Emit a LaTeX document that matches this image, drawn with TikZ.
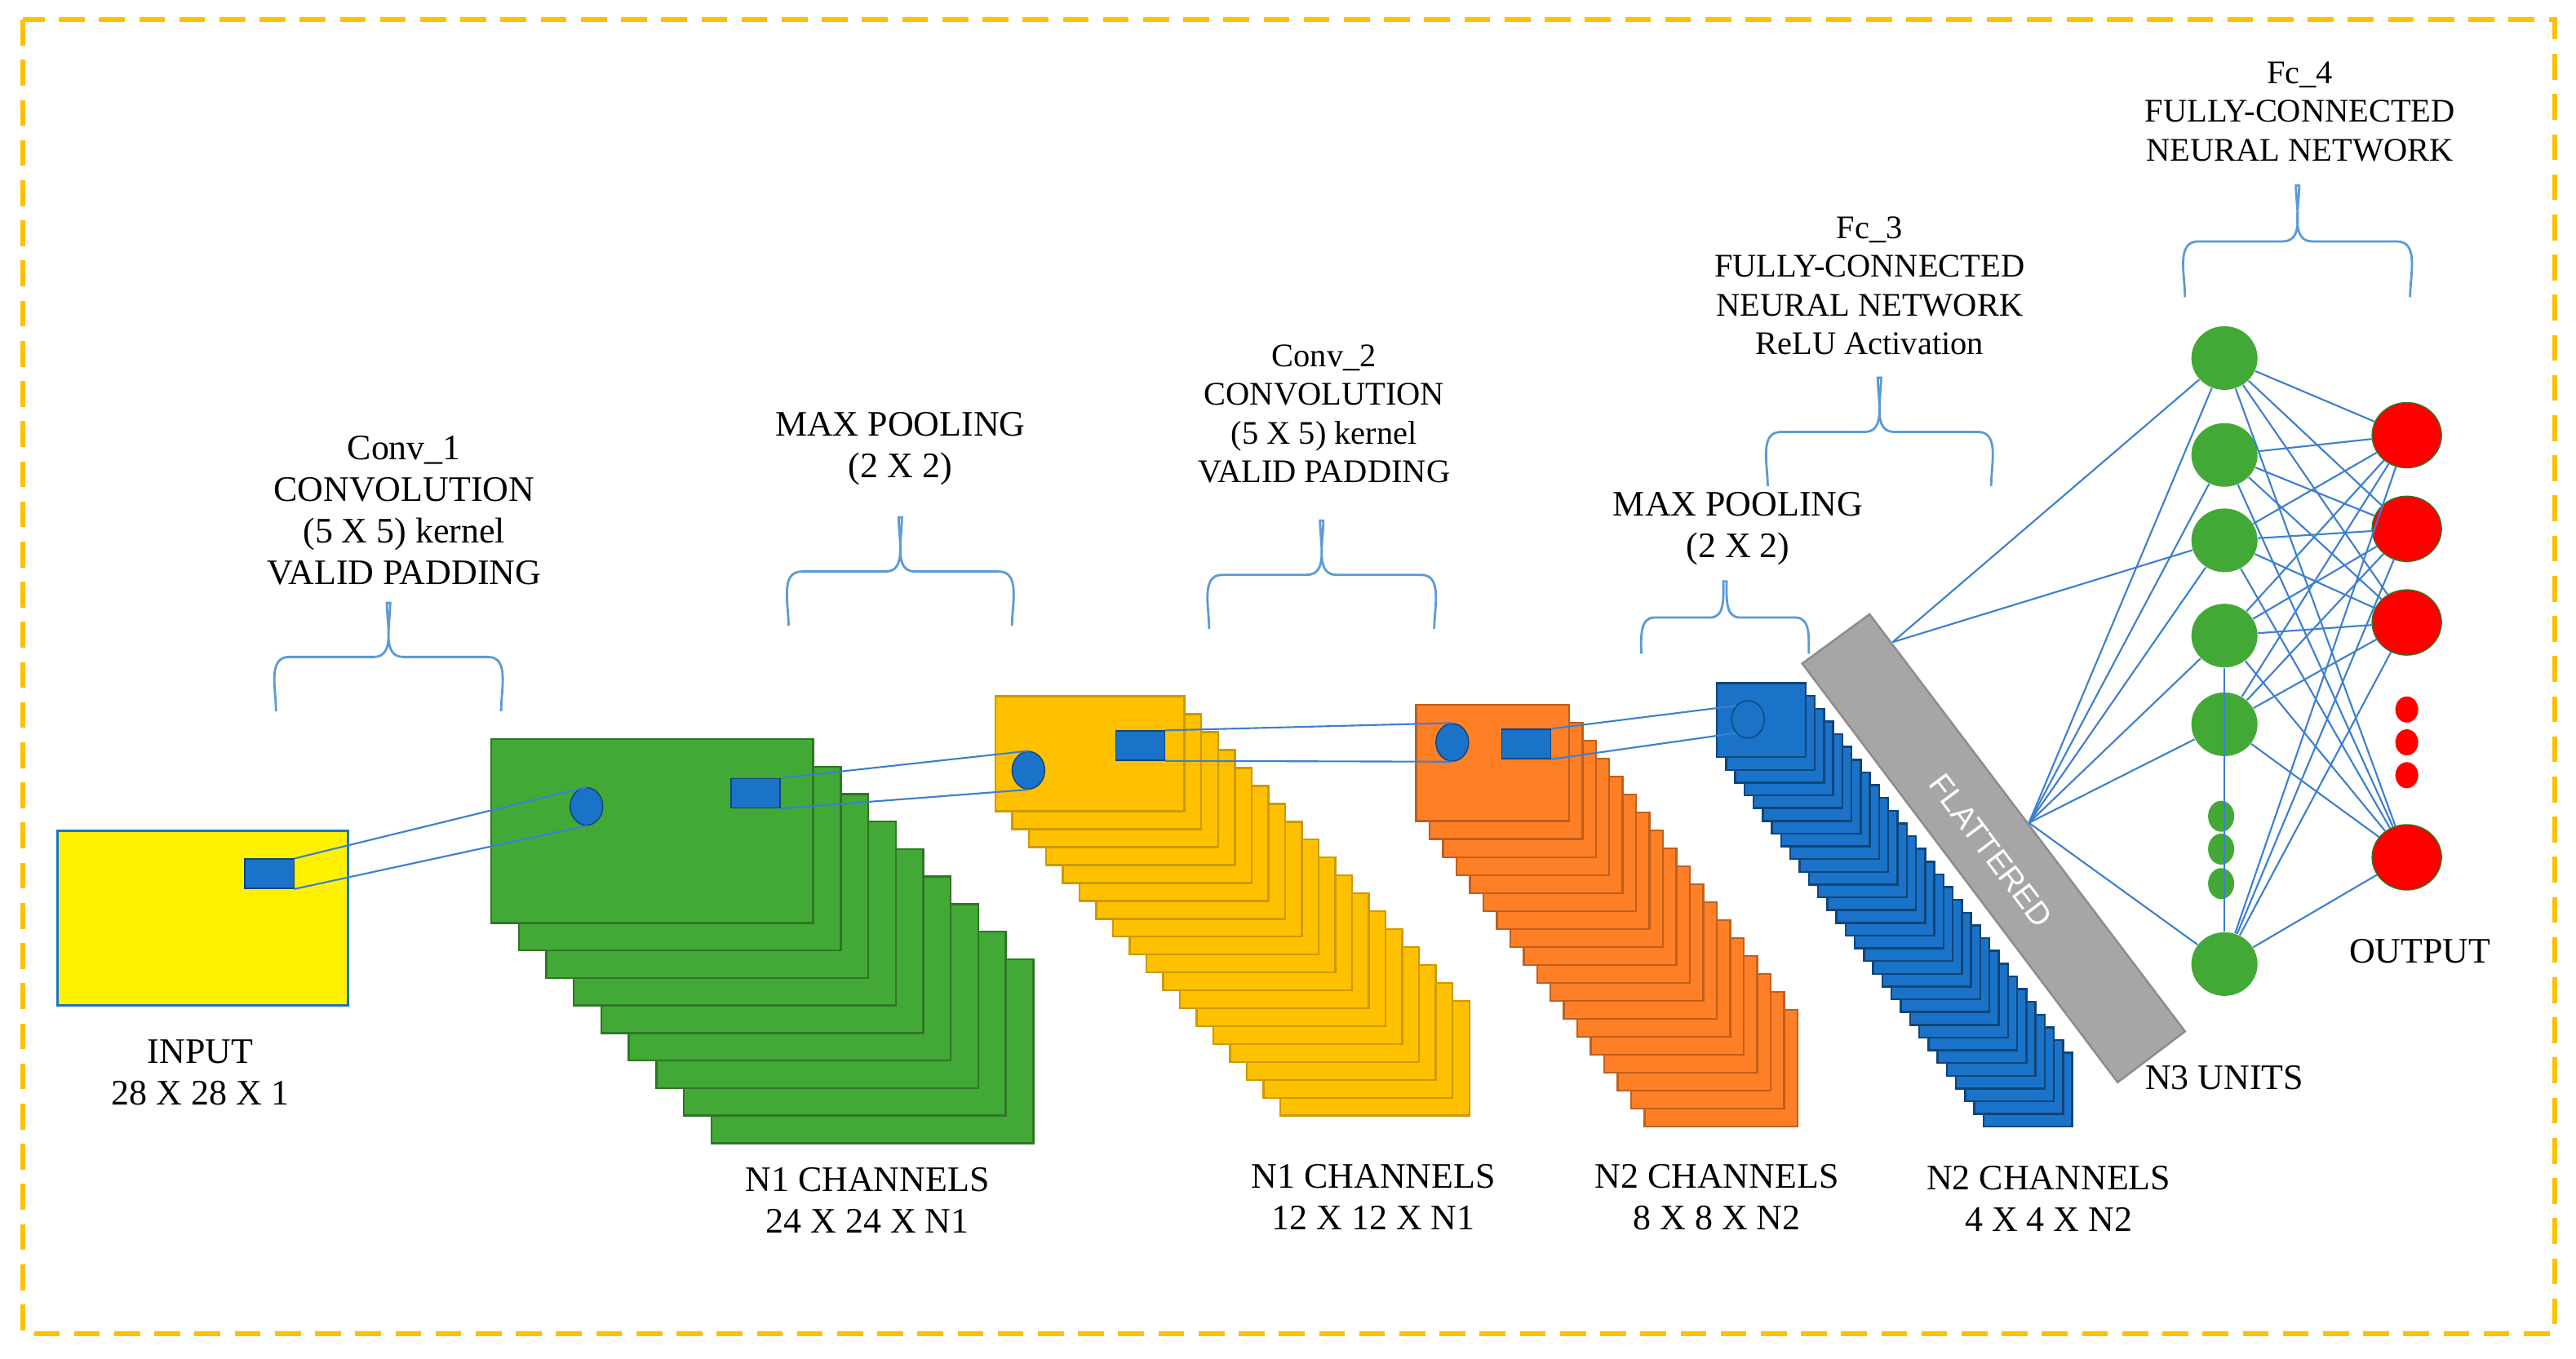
\documentclass[tikz,border=0pt]{standalone}
\usepackage{fontspec}
\setmainfont{Liberation Serif}
\newfontfamily\barfont{Liberation Sans}
\usetikzlibrary{shapes.geometric}
\definecolor{frameyel}{HTML}{FFC000}
\definecolor{layergreen}{HTML}{43A936}
\definecolor{layergold}{HTML}{FFC000}
\definecolor{layerorange}{HTML}{FF7F27}
\definecolor{layerblue}{HTML}{1A73C8}
\definecolor{linkblue}{HTML}{3C7FD0}
\definecolor{bracecol}{HTML}{5B9BD5}
\tikzset{
  lbl/.style={align=center,font=\fontsize{12.5}{14.5}\selectfont},
  kern/.style={draw=layerblue!60!black,fill=layerblue,minimum width=6mm,minimum height=3.6mm,inner sep=0pt},
  spot/.style={ellipse,draw=layerblue!60!black,fill=layerblue,minimum width=4mm,minimum height=4.6mm,inner sep=0pt},
  hid/.style={ellipse,fill=layergreen,minimum width=8.1mm,minimum height=7.8mm,inner sep=0pt},
  outn/.style={ellipse,fill=red,draw=layergreen!70!black,minimum width=8.5mm,minimum height=8mm,inner sep=0pt},
  link/.style={linkblue,line width=0.6pt},
}
\newcommand{\netbrace}[4]{% x1, x2, y, depth
  \pgfmathsetmacro{\bmid}{(#1+#2)/2}
  \draw[bracecol,line width=0.8pt] (#1,#3+#4) to[out=90,in=180] (#1+8,#3) -- (\bmid-9,#3)
    to[out=0,in=-90] (\bmid-1,#3-#4) -- (\bmid+1,#3-#4) to[out=-90,in=180] (\bmid+9,#3) -- (#2-8,#3)
    to[out=0,in=90] (#2,#3+#4);}
\newcommand{\layerstack}[9]{% x0,y0,w,h,dx,dy,last,fill,draw
  \foreach \i in {#7,...,0}
    \filldraw[fill=#8,draw=#9,line width=0.7pt] (#1+\i*#5,#2+\i*#6) rectangle ++(#3,#4);}
\begin{document}
\begin{tikzpicture}[x=0.2013mm,y=-0.2013mm]
\useasboundingbox (0,0) rectangle (1568,827);
\draw[frameyel,line width=1.6pt,dash pattern=on 9pt off 5pt] (14,12) rectangle (1555,812);

% input
\filldraw[fill=yellow,draw=layerblue,line width=0.8pt] (35,506) rectangle (212,612);
\node[kern,minimum width=6mm] (k0) at (164,532) {};
\node[lbl] (lin) at (122,653) {INPUT\\28 X 28 X 1};

% feature map stacks
\layerstack{299}{450}{196}{112}{16.75}{16.75}{8}{layergreen}{layergreen!70!black}
\layerstack{606}{424}{115}{70}{10.2}{10.9}{17}{layergold}{layergold!80!black}
\layerstack{862}{429}{93}{71}{8.18}{10.94}{17}{layerorange}{layerorange!75!black}
\layerstack{1045}{416}{54}{45}{5.6}{7.76}{29}{layerblue}{layerblue!60!black}

% kernels and receptive spots
\node[spot] (s1) at (357,491) {};
\node[kern] (k1) at (460,483) {};
\node[spot] (s2) at (626,469) {};
\node[kern] (k2) at (694,454) {};
\node[spot] (s3) at (884,452) {};
\node[kern] (k3) at (929,453) {};
\node[spot,fill=none] (s4) at (1064,438) {};
\draw[link] (k0.north east) -- (s1.north);
\draw[link] (k0.south east) -- (s1.south);
\draw[link] (k1.north east) -- (s2.north);
\draw[link] (k1.south east) -- (s2.south);
\draw[link] (k2.north east) -- (s3.north);
\draw[link] (k2.south east) -- (s3.south);
\draw[link] (k3.north east) -- (s4.north west);
\draw[link] (k3.south east) -- (s4.south west);

% flattened bar
\filldraw[fill=black!35,draw=black!45,line width=0.7pt] (1097,404) -- (1138,374) -- (1330,628) -- (1289,659) -- cycle;
\node[white,rotate=-53,font=\barfont\fontsize{11}{11}\selectfont] (flat) at (1212,518) {FLATTERED};
\coordinate (fa) at (1152,391);
\coordinate (fb) at (1235,501);

% fully connected layers
\foreach \y [count=\n] in {218,277,329,387,441,587}
  \node[hid] (g\n) at (1354,\y) {};
\foreach \y [count=\n] in {497,517,538}
  \node[ellipse,fill=layergreen,minimum width=3.2mm,minimum height=3.8mm,inner sep=0pt] (gd\n) at (1352,\y) {};
\foreach \y [count=\n] in {265,322,379,522}
  \node[outn] (r\n) at (1465,\y) {};
\foreach \y [count=\n] in {432,452,472}
  \node[ellipse,fill=red,minimum width=2.8mm,minimum height=3.2mm,inner sep=0pt] (rd\n) at (1465,\y) {};
\draw[link] (fa) -- (g1);
\draw[link] (fa) -- (g3);
\foreach \n in {1,...,6}
  \draw[link] (fb) -- (g\n);
\draw[link] (g4) -- (g6);
\foreach \a in {1,...,6}
  \foreach \b in {1,...,4}
    \draw[link] (g\a) -- (r\b);

% braces
\netbrace{168}{305}{400}{33}
\netbrace{480}{616}{348}{33}
\netbrace{736}{873}{350}{33}
\netbrace{999}{1101}{376}{22}
\netbrace{1076}{1212}{263}{33}
\netbrace{1330}{1467}{147}{34}

% labels
\node[lbl] (t1) at (246,311) {Conv\_1\\CONVOLUTION\\(5 X 5) kernel\\VALID PADDING};
\node[lbl] (t2) at (548,273) {MAX POOLING\\(2 X 2)};
\node[lbl,font=\fontsize{11.5}{13.5}\selectfont] (t3) at (806,252) {Conv\_2\\CONVOLUTION\\(5 X 5) kernel\\VALID PADDING};
\node[lbl] (t4) at (1058,322) {MAX POOLING\\(2 X 2)};
\node[lbl,font=\fontsize{11.5}{13.5}\selectfont] (t5) at (1138,174) {Fc\_3\\FULLY-CONNECTED\\NEURAL NETWORK\\ReLU Activation};
\node[lbl,font=\fontsize{11.5}{13.5}\selectfont] (t6) at (1400,68) {Fc\_4\\FULLY-CONNECTED\\NEURAL NETWORK};
\node[lbl] (c1) at (528,731) {N1 CHANNELS\\24 X 24 X N1};
\node[lbl] (c2) at (836,729) {N1 CHANNELS\\12 X 12 X N1};
\node[lbl] (c3) at (1045,729) {N2 CHANNELS\\8 X 8 X N2};
\node[lbl] (c4) at (1247,730) {N2 CHANNELS\\4 X 4 X N2};
\node[lbl] (u3) at (1354,656) {N3 UNITS};
\node[lbl] (ou) at (1473,579) {OUTPUT};
\end{tikzpicture}
\end{document}
